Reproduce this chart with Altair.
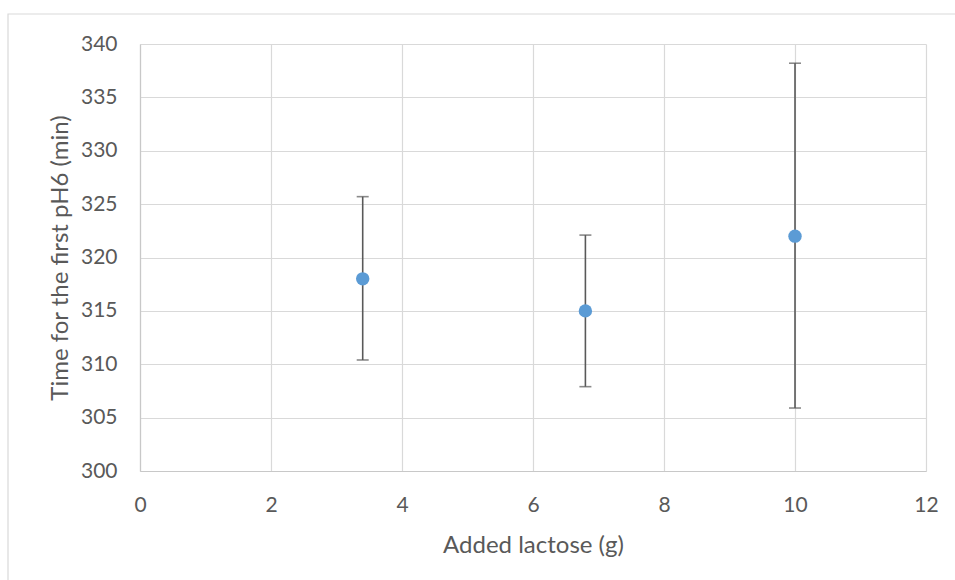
import altair as alt
import pandas as pd

lactose = [3.4, 6.8, 10.0]
time_mean = [318.0, 315.0, 322.0]
time_low = [310.4, 307.9, 305.9]
time_high = [325.7, 322.1, 338.2]

df = pd.DataFrame({"x": lactose, "y": time_mean, "lo": time_low, "hi": time_high})

FONT = "Lato"
TXT = "#595959"

xs = alt.Scale(domain=[0, 12], nice=False, zero=False)
ys = alt.Scale(domain=[300, 340], nice=False, zero=False)

base = alt.Chart(df)

frame = alt.Chart(pd.DataFrame({"a": [0]})).mark_rect(
    filled=False, stroke="#d9d9d9", strokeWidth=1.2, clip=False
).encode(
    x=alt.value(-132), x2=alt.value(830), y=alt.value(-30), y2=alt.value(560)
)

xaxis = alt.Axis(
    values=[0, 2, 4, 6, 8, 10, 12], format="d", title="Added lactose (g)", ticks=False,
    labelPadding=23, labelFlush=False, titleX=393, titleY=74,
    titleBaseline="middle", titleAlign="center",
)
yaxis = alt.Axis(
    values=[300, 305, 310, 315, 320, 325, 330, 335, 340], format="d",
    title="Time for the first pH6 (min)", ticks=False, labelPadding=23, labelFlush=False,
    titleX=-80, titleY=213.5, titleAngle=-90, titleBaseline="middle", titleAlign="center",
)

rules = base.mark_rule(color="#595959", strokeWidth=1.6).encode(
    x=alt.X("x:Q", scale=xs, axis=xaxis),
    y=alt.Y("lo:Q", scale=ys, axis=yaxis),
    y2="hi:Q",
)
cap_lo = base.mark_tick(color="#595959", thickness=1.6, size=12, orient="horizontal").encode(
    x=alt.X("x:Q", scale=xs), y=alt.Y("lo:Q", scale=ys)
)
cap_hi = base.mark_tick(color="#595959", thickness=1.6, size=12, orient="horizontal").encode(
    x=alt.X("x:Q", scale=xs), y=alt.Y("hi:Q", scale=ys)
)
points = base.mark_circle(color="#5b9bd5", opacity=1, size=180).encode(
    x=alt.X("x:Q", scale=xs), y=alt.Y("y:Q", scale=ys)
)

chart = alt.layer(frame, rules, cap_lo, cap_hi, points).properties(
    width=786, height=427,
    background="white",
    autosize=alt.AutoSizeParams(type="none"),
    padding={"left": 140, "top": 44, "right": 29, "bottom": 109},
).configure_view(stroke=None).configure_axis(
    gridColor="#d9d9d9", gridWidth=1.2, domainColor="#c8c8c8", domainWidth=1.2,
    labelFont=FONT, titleFont=FONT, labelColor=TXT, titleColor=TXT,
    labelFontSize=21, titleFontSize=24, titleFontWeight="normal",
)

chart.save("out.html", embed_options={"renderer": "svg", "actions": False})
